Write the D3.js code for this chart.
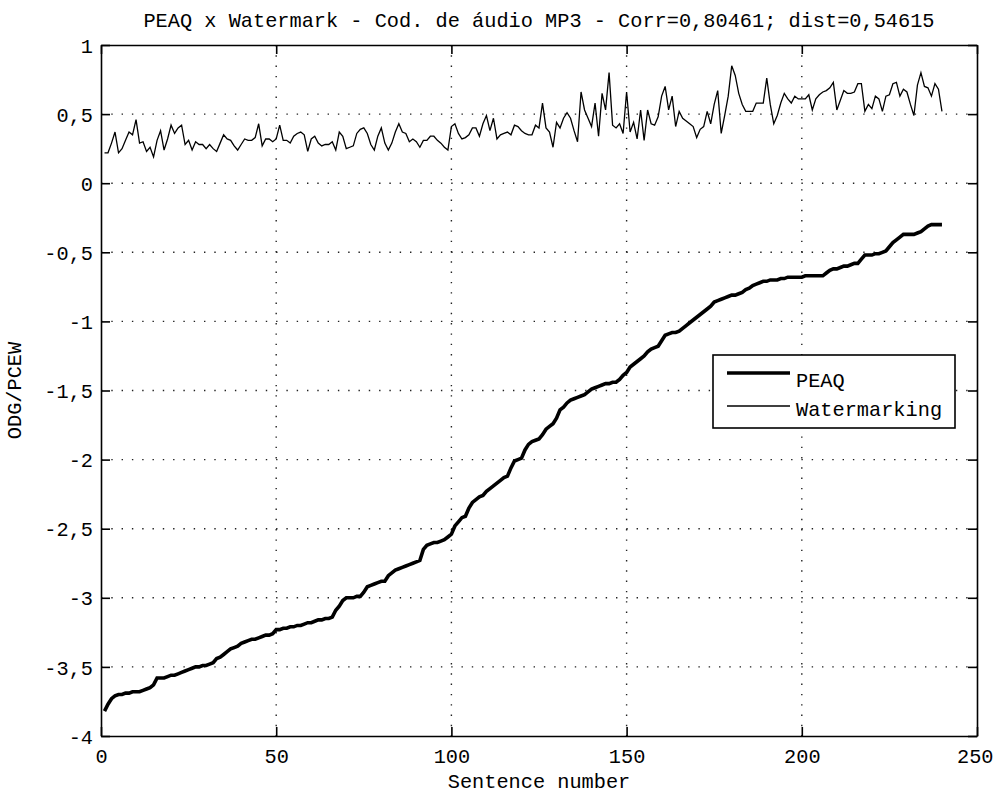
<!DOCTYPE html>
<html>
<head>
<meta charset="utf-8">
<script src="https://cdn.jsdelivr.net/npm/d3@7"></script>
<style>
  body { margin: 0; background: #fff; }
  svg text { font-family: "Liberation Mono", "DejaVu Sans Mono", monospace; font-size: 20.3px; fill: #000; }
</style>
</head>
<body>
<svg width="996" height="796"></svg>
<script>
const width = 996,
    height = 796,
    margin = ({ top: 45, right: 19, bottom: 60, left: 101 });

// PEAQ (ODG), sorted, one value per sentence 1..240
const peaq = [
  -3.82, -3.77, -3.73, -3.71, -3.70, -3.70, -3.69, -3.69, -3.68, -3.68,
  -3.68, -3.67, -3.66, -3.65, -3.63, -3.58, -3.58, -3.58, -3.57, -3.56,
  -3.56, -3.55, -3.54, -3.53, -3.52, -3.51, -3.50, -3.50, -3.49, -3.49,
  -3.48, -3.47, -3.44, -3.43, -3.41, -3.39, -3.37, -3.36, -3.35, -3.33,
  -3.32, -3.31, -3.30, -3.30, -3.29, -3.28, -3.27, -3.27, -3.26, -3.23,
  -3.23, -3.22, -3.22, -3.21, -3.21, -3.20, -3.20, -3.19, -3.18, -3.18,
  -3.17, -3.16, -3.16, -3.15, -3.15, -3.14, -3.09, -3.06, -3.02, -3.00,
  -3.00, -3.00, -2.99, -2.99, -2.96, -2.92, -2.91, -2.90, -2.89, -2.88,
  -2.88, -2.84, -2.82, -2.80, -2.79, -2.78, -2.77, -2.76, -2.75, -2.74,
  -2.73, -2.65, -2.62, -2.61, -2.60, -2.60, -2.59, -2.58, -2.56, -2.54,
  -2.48, -2.45, -2.42, -2.41, -2.35, -2.31, -2.29, -2.27, -2.26, -2.23,
  -2.21, -2.19, -2.17, -2.15, -2.13, -2.12, -2.06, -2.01, -2.00, -1.99,
  -1.93, -1.89, -1.87, -1.86, -1.85, -1.82, -1.78, -1.76, -1.74, -1.70,
  -1.64, -1.62, -1.59, -1.57, -1.56, -1.55, -1.54, -1.53, -1.51, -1.49,
  -1.48, -1.47, -1.46, -1.45, -1.45, -1.44, -1.44, -1.42, -1.39, -1.37,
  -1.33, -1.31, -1.29, -1.27, -1.25, -1.22, -1.20, -1.19, -1.18, -1.14,
  -1.10, -1.09, -1.08, -1.08, -1.07, -1.05, -1.03, -1.01, -0.99, -0.97,
  -0.95, -0.93, -0.91, -0.89, -0.86, -0.85, -0.84, -0.83, -0.82, -0.81,
  -0.81, -0.80, -0.79, -0.77, -0.76, -0.74, -0.73, -0.72, -0.71, -0.71,
  -0.70, -0.70, -0.70, -0.69, -0.69, -0.68, -0.68, -0.68, -0.68, -0.68,
  -0.67, -0.67, -0.67, -0.67, -0.67, -0.67, -0.65, -0.63, -0.62, -0.62,
  -0.61, -0.60, -0.60, -0.59, -0.58, -0.58, -0.55, -0.52, -0.52, -0.52,
  -0.51, -0.51, -0.50, -0.49, -0.46, -0.43, -0.41, -0.39, -0.37, -0.37,
  -0.37, -0.37, -0.36, -0.35, -0.33, -0.31, -0.30, -0.30, -0.30, -0.30
];

// watermarking score (PCEW), same sentence order
const watermark = [
  0.22, 0.22, 0.29, 0.37, 0.22, 0.25, 0.31, 0.37, 0.35, 0.46,
  0.29, 0.30, 0.23, 0.26, 0.19, 0.31, 0.38, 0.24, 0.32, 0.42,
  0.36, 0.40, 0.42, 0.28, 0.31, 0.24, 0.30, 0.28, 0.28, 0.25,
  0.28, 0.25, 0.23, 0.29, 0.35, 0.32, 0.31, 0.27, 0.24, 0.28,
  0.32, 0.31, 0.31, 0.33, 0.43, 0.27, 0.32, 0.32, 0.30, 0.32,
  0.42, 0.31, 0.31, 0.29, 0.34, 0.36, 0.37, 0.35, 0.23, 0.32,
  0.34, 0.29, 0.27, 0.28, 0.28, 0.30, 0.24, 0.37, 0.34, 0.25,
  0.26, 0.27, 0.36, 0.39, 0.40, 0.36, 0.28, 0.24, 0.34, 0.40,
  0.29, 0.24, 0.29, 0.37, 0.43, 0.37, 0.36, 0.30, 0.32, 0.30,
  0.26, 0.31, 0.31, 0.34, 0.34, 0.31, 0.29, 0.26, 0.24, 0.41,
  0.43, 0.36, 0.32, 0.33, 0.35, 0.40, 0.40, 0.34, 0.43, 0.49,
  0.38, 0.47, 0.32, 0.35, 0.36, 0.37, 0.35, 0.42, 0.41, 0.38,
  0.36, 0.35, 0.35, 0.42, 0.40, 0.58, 0.40, 0.37, 0.26, 0.44,
  0.40, 0.47, 0.51, 0.47, 0.38, 0.30, 0.66, 0.53, 0.47, 0.41,
  0.58, 0.34, 0.65, 0.53, 0.80, 0.42, 0.40, 0.43, 0.36, 0.66,
  0.37, 0.44, 0.32, 0.53, 0.31, 0.53, 0.43, 0.42, 0.48, 0.63,
  0.70, 0.53, 0.63, 0.41, 0.52, 0.47, 0.45, 0.43, 0.41, 0.33,
  0.39, 0.41, 0.52, 0.43, 0.57, 0.67, 0.36, 0.49, 0.63, 0.85,
  0.78, 0.65, 0.57, 0.52, 0.52, 0.52, 0.58, 0.58, 0.58, 0.76,
  0.57, 0.43, 0.49, 0.58, 0.65, 0.61, 0.58, 0.63, 0.61, 0.61,
  0.61, 0.64, 0.53, 0.61, 0.64, 0.66, 0.67, 0.69, 0.73, 0.53,
  0.60, 0.67, 0.65, 0.65, 0.66, 0.72, 0.72, 0.52, 0.57, 0.54,
  0.63, 0.61, 0.52, 0.63, 0.64, 0.72, 0.73, 0.63, 0.68, 0.66,
  0.57, 0.49, 0.71, 0.80, 0.70, 0.69, 0.63, 0.72, 0.68, 0.52
];

const sentences = d3.range(1, peaq.length + 1);

const xTicks = [0, 50, 100, 150, 200, 250];
const yTicks = [-4, -3.5, -3, -2.5, -2, -1.5, -1, -0.5, 0, 0.5, 1];

const titleText = "PEAQ x Watermark - Cod. de áudio MP3 - Corr=0,80461; dist=0,54615";
const xLabel = "Sentence number";
const yLabel = "ODG/PCEW";
const seriesNames = ["PEAQ", "Watermarking"];

const fmt = v => String(v).replace(".", ",");

const x = d3.scaleLinear().domain([0, 250]).range([margin.left, width - margin.right]);
const y = d3.scaleLinear().domain([-4, 1]).range([height - margin.bottom, margin.top]);

const svg = d3.select("svg");

// grid
const grid = svg.append("g")
  .attr("stroke", "#222")
  .attr("stroke-width", 1.4)
  .attr("stroke-dasharray", "1.4,8.9");

grid.selectAll(".gx")
  .data(xTicks.slice(1, -1))
  .join("line")
  .attr("x1", d => x(d)).attr("x2", d => x(d))
  .attr("y1", y(1)).attr("y2", y(-4));

grid.selectAll(".gy")
  .data(yTicks.slice(1, -1))
  .join("line")
  .attr("x1", x(0)).attr("x2", x(250))
  .attr("y1", d => y(d)).attr("y2", d => y(d));

// axes, MATLAB-style inward ticks on all four sides
const tick = 9;
const xb = svg.append("g")
  .attr("transform", `translate(0,${y(-4)})`)
  .call(d3.axisBottom(x).tickValues(xTicks).tickSize(-tick).tickSizeOuter(0).tickFormat(fmt));
xb.selectAll("text").attr("y", 27).attr("dy", 0);
// keep the last label inside the page
xb.selectAll("text").filter(d => d === 250)
  .attr("text-anchor", "end").attr("x", 16);

const yl = svg.append("g")
  .attr("transform", `translate(${x(0)},0)`)
  .call(d3.axisLeft(y).tickValues(yTicks).tickSize(-tick).tickSizeOuter(0).tickFormat(fmt));
yl.selectAll("text").attr("x", -8).attr("dy", "0.35em");

svg.append("g")
  .attr("transform", `translate(0,${y(1)})`)
  .call(d3.axisTop(x).tickValues(xTicks).tickSize(-tick).tickSizeOuter(0).tickFormat(""));

svg.append("g")
  .attr("transform", `translate(${x(250)},0)`)
  .call(d3.axisRight(y).tickValues(yTicks).tickSize(-tick).tickSizeOuter(0).tickFormat(""));

svg.selectAll(".domain").attr("stroke", "#000").attr("stroke-width", 1.6);
svg.selectAll(".tick line").attr("stroke", "#000").attr("stroke-width", 1.6);
svg.selectAll(".tick text").style("font-size", "20.3px").style("font-family", null);

// series
const line = d3.line()
  .x((d, i) => x(sentences[i]))
  .y(d => y(d));

svg.append("path")
  .datum(watermark)
  .attr("fill", "none")
  .attr("stroke", "#000")
  .attr("stroke-width", 1.3)
  .attr("d", line);

svg.append("path")
  .datum(peaq)
  .attr("fill", "none")
  .attr("stroke", "#000")
  .attr("stroke-width", 3.6)
  .attr("d", line);

// labels
svg.append("text")
  .attr("x", x(125)).attr("y", 27)
  .attr("text-anchor", "middle")
  .text(titleText);

svg.append("text")
  .attr("x", x(125)).attr("y", 788)
  .attr("text-anchor", "middle")
  .text(xLabel);

svg.append("text")
  .attr("transform", `translate(21,${y(-1.5)}) rotate(-90)`)
  .attr("text-anchor", "middle")
  .text(yLabel);

// legend
const lg = svg.append("g");
lg.append("rect")
  .attr("x", 713).attr("y", 355)
  .attr("width", 242).attr("height", 73)
  .attr("fill", "#fff")
  .attr("stroke", "#000")
  .attr("stroke-width", 1.6);

const legendRows = [
  { name: seriesNames[0], w: 3.6, ly: 373, ty: 387 },
  { name: seriesNames[1], w: 1.3, ly: 406, ty: 416 }
];

lg.selectAll("line")
  .data(legendRows)
  .join("line")
  .attr("x1", 727).attr("x2", 790)
  .attr("y1", d => d.ly).attr("y2", d => d.ly)
  .attr("stroke", "#000")
  .attr("stroke-width", d => d.w);

lg.selectAll("text")
  .data(legendRows)
  .join("text")
  .attr("x", 796)
  .attr("y", d => d.ty)
  .text(d => d.name);
</script>
</body>
</html>
